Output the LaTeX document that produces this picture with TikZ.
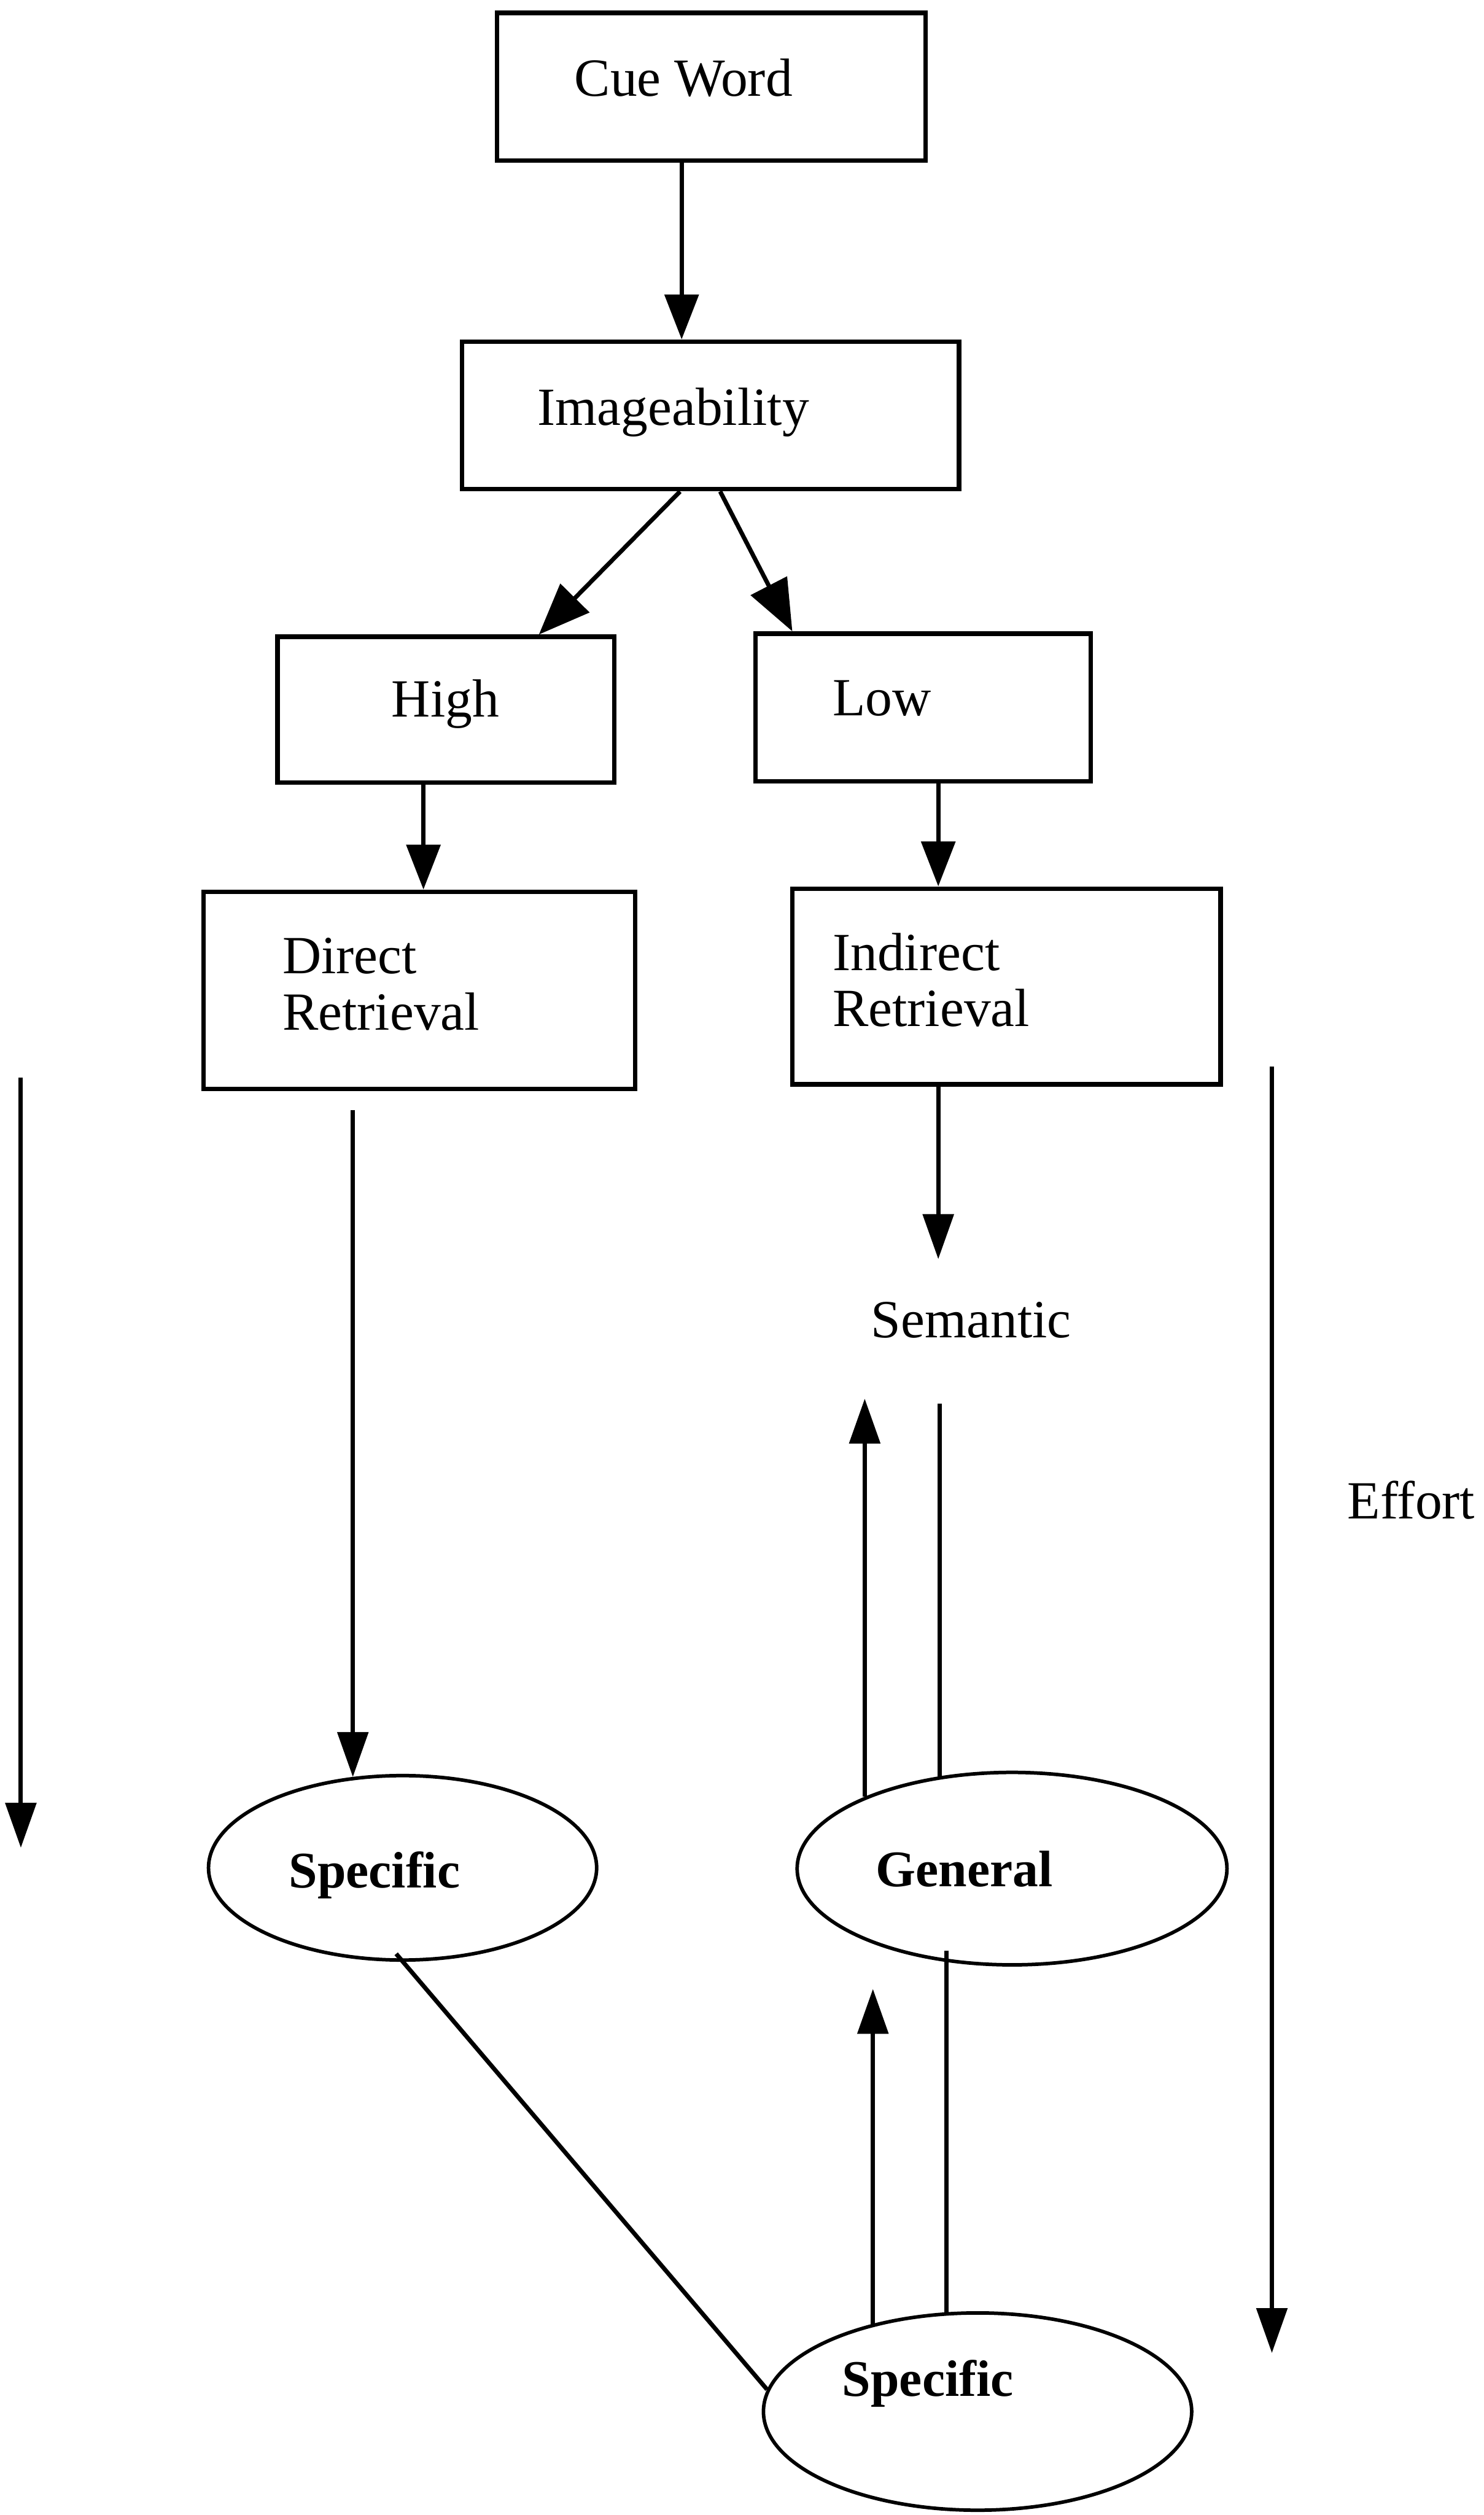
\documentclass[tikz,border=0pt]{standalone}
\usepackage{fontspec}
\setmainfont{Liberation Serif}
\usetikzlibrary{arrows.meta,shapes.geometric}

\begin{document}
\begin{tikzpicture}[x=1pt,y=-1pt,
  box/.style={draw, line width=2.8pt, rectangle, inner sep=0pt},
  oval/.style={draw, line width=2.2pt, ellipse, inner sep=0pt},
  txt/.style={anchor=base west, inner sep=0pt, font=\fontsize{33.5}{40}\selectfont},
  btxt/.style={anchor=base west, inner sep=0pt, font=\fontsize{32}{40}\selectfont\bfseries},
  conn/.style={line width=2.7pt},
  arr/.style={conn, -{Triangle[length=28pt,width=21pt]}},
  arrbig/.style={conn, -{Triangle[length=32pt,width=25pt]}},
  arrs/.style={conn, -{Triangle[length=28pt,width=19pt]}},
]
\useasboundingbox (0,0) rectangle (925,1568);

% boxes
\node[box, minimum width=267pt, minimum height=92pt]  (cue)  at (443.5,54)   {};
\node[box, minimum width=310pt, minimum height=92pt]  (img)  at (443,259)    {};
\node[box, minimum width=210pt, minimum height=91pt]  (high) at (278,442.5)  {};
\node[box, minimum width=209pt, minimum height=92pt]  (low)  at (575.5,441)  {};
\node[box, minimum width=269pt, minimum height=123pt] (dir)  at (261.5,617.5) {};
\node[box, minimum width=267pt, minimum height=122pt] (ind)  at (627.5,615)  {};

% ovals
\node[oval, minimum width=242pt, minimum height=115pt] (spec1) at (251,1164.5) {};
\node[oval, minimum width=268pt, minimum height=120pt] (gen)   at (631,1165)   {};
\node[oval, minimum width=267pt, minimum height=123pt] (spec2) at (609.5,1503.5) {};

% labels
\node[txt] (tcue)  at (358,60)  {Cue Word};
\node[txt] (timg)  at (335,265) {Imageability};
\node[txt] (thigh) at (244,447) {High};
\node[txt] (tlow)  at (519,446) {Low};
\node[txt] (tdir1) at (176,607) {Direct};
\node[txt] (tdir2) at (176,642) {Retrieval};
\node[txt] (tind1) at (519,605) {Indirect};
\node[txt] (tind2) at (519,640) {Retrieval};
\node[txt] (sem)   at (543,834) {Semantic};
\node[txt] (eff)   at (840,947) {Effort};
\node[btxt] (tspec1) at (180,1177) {Specific};
\node[btxt] (tgen)   at (546,1176) {General};
\node[btxt] (tspec2) at (525,1494) {Specific};

% free ends
\coordinate (d0)   at (220,692);
\coordinate (semtop) at (585,785);
\coordinate (up1)  at (541,872);
\coordinate (ln1)  at (587,875);
\coordinate (ln2)  at (590,1216);
\coordinate (up2)  at (544,1240);
\coordinate (eL0)  at (13,672);
\coordinate (eL1)  at (13,1152);
\coordinate (eR0)  at (793,665);
\coordinate (eR1)  at (793,1467);

% connectors, upper part
\draw[arr] ([xshift=-18.5pt]cue.south) -- ([xshift=-18pt]img.north);
\draw[arrbig] ([xshift=-19pt]img.south) -- ([xshift=58pt]high.north);
\draw[arrbig] ([xshift=6pt]img.south) -- ([xshift=-81.5pt]low.north);
\draw[arr] ([xshift=-14pt]high.south) -- ([xshift=2.5pt]dir.north);
\draw[arr] ([xshift=9.5pt]low.south) -- ([xshift=-42.5pt]ind.north);

% connectors, lower part
\draw[arrs] (d0) -- (d0 |- spec1.119);
\draw[arrs] (ind.south -| semtop) -- (semtop);
\draw[arrs] (gen.154) -- (gen.154 |- up1);
\draw[conn] (gen.128) -- (gen.128 |- ln1);
\draw[conn] ([xshift=-4pt,yshift=5pt]spec1.south) -- (spec2.174);
\draw[arrs] (spec2.140) -- (spec2.140 |- up2);
\draw[conn] (ln2) -- (ln2 |- spec2.107);

% effort scale
\draw[arrs] (eL0) -- (eL1);
\draw[arrs] (eR0) -- (eR1);
\end{tikzpicture}
\end{document}
